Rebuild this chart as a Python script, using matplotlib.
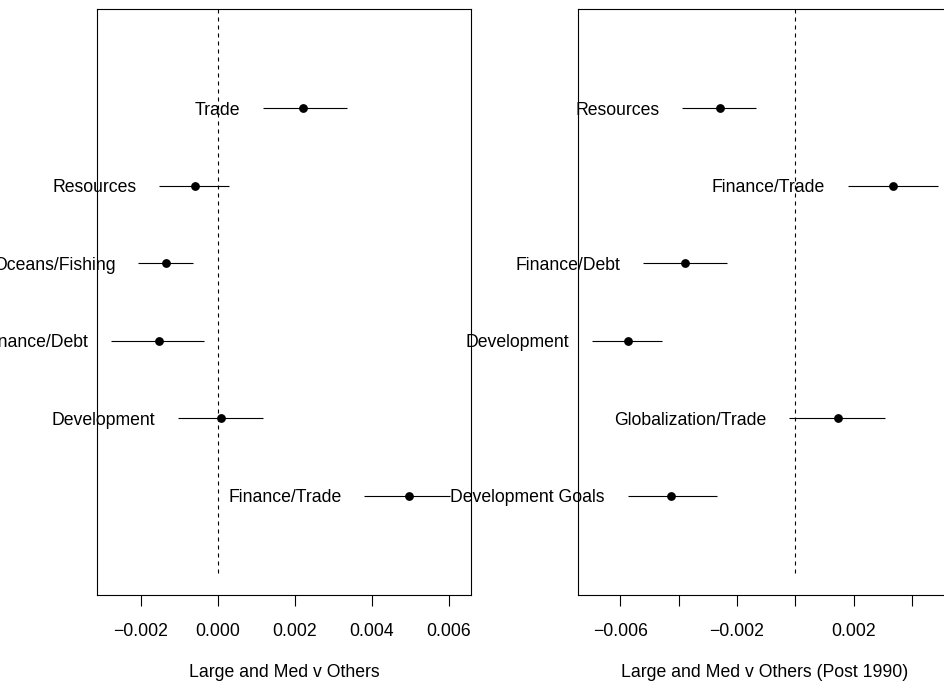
import matplotlib
matplotlib.use("Agg")
import matplotlib.pyplot as plt
from matplotlib.transforms import ScaledTranslation

plt.rcParams["font.family"] = ["Liberation Sans", "DejaVu Sans"]
plt.rcParams["font.size"] = 12.7

# Left panel: Large and Med v Others (top to bottom)
left_labels = ["Trade", "Resources", "Oceans/Fishing", "Finance/Debt",
               "Development", "Finance/Trade"]
left_est = [0.00221, -0.00060, -0.00133, -0.00152, 0.00009, 0.00497]
left_lo = [0.00118, -0.00152, -0.00206, -0.00277, -0.00102, 0.00380]
left_hi = [0.00335, 0.00029, -0.00065, -0.00035, 0.00118, 0.00603]

# Right panel: Large and Med v Others (Post 1990)
right_labels = ["Resources", "Finance/Trade", "Finance/Debt", "Development",
                "Globalization/Trade", "Development Goals"]
right_est = [-0.00259, 0.00334, -0.00379, -0.00574, 0.00146, -0.00427]
right_lo = [-0.00388, 0.00180, -0.00523, -0.00696, -0.00021, -0.00575]
right_hi = [-0.00135, 0.00488, -0.00233, -0.00458, 0.00308, -0.00268]

left_ticks = [-0.002, 0.000, 0.002, 0.004, 0.006]
left_ticklabels = ["\u22120.002", "0.000", "0.002", "0.004", "0.006"]
right_ticks = [-0.006, -0.004, -0.002, 0.000, 0.002, 0.004]
right_ticklabels = ["\u22120.006", "", "\u22120.002", "", "0.002", ""]

W, H = 944, 684
fig = plt.figure(figsize=(W / 100, H / 100), dpi=100)

box_top, box_bot = 9, 595
ax_h = (box_bot - box_top) / H
ax_b = (H - box_bot) / H
ax1 = fig.add_axes([97 / W, ax_b, 374 / W, ax_h])
ax2 = fig.add_axes([578 / W, ax_b, 374 / W, ax_h])


def draw_panel(ax, labels, est, lo, hi, xlim, ticks, ticklabels, xlabel):
    n = len(labels)
    ypos = list(range(n, 0, -1))
    ax.plot([0, 0], [0, n + 2], color="black", lw=0.8,
            linestyle=(0, (3.6, 3.6)), zorder=1)
    for y, e, l, h, lab in zip(ypos, est, lo, hi, labels):
        ax.plot([l, h], [y, y], color="black", lw=0.8, solid_capstyle="butt",
                zorder=2)
        ax.plot([e], [y], "o", color="black", ms=5.3, zorder=3)
        tr = ax.transData + ScaledTranslation(-16.5 / 72, 0, fig.dpi_scale_trans)
        ax.text(l, y, lab, transform=tr, ha="right", va="center_baseline",
                clip_on=False, zorder=4)
    ax.set_xlim(*xlim)
    ax.set_ylim(-0.28, n + 1.28)
    ax.set_yticks([])
    ax.set_xticks(ticks)
    ax.set_xticklabels(ticklabels)
    ax.tick_params(axis="x", direction="out", length=8, width=0.8, pad=12)
    for s in ax.spines.values():
        s.set_linewidth(0.8)
    ax.text(0.5, (box_bot - 677) / (box_bot - box_top), xlabel,
            transform=ax.transAxes, ha="center", va="baseline")


draw_panel(ax1, left_labels, left_est, left_lo, left_hi,
           (-0.003131, 0.006570), left_ticks, left_ticklabels,
           "Large and Med v Others")
draw_panel(ax2, right_labels, right_est, right_lo, right_hi,
           (-0.007454, 0.005376), right_ticks, right_ticklabels,
           "Large and Med v Others (Post 1990)")

fig.savefig("out.png", dpi=100)
